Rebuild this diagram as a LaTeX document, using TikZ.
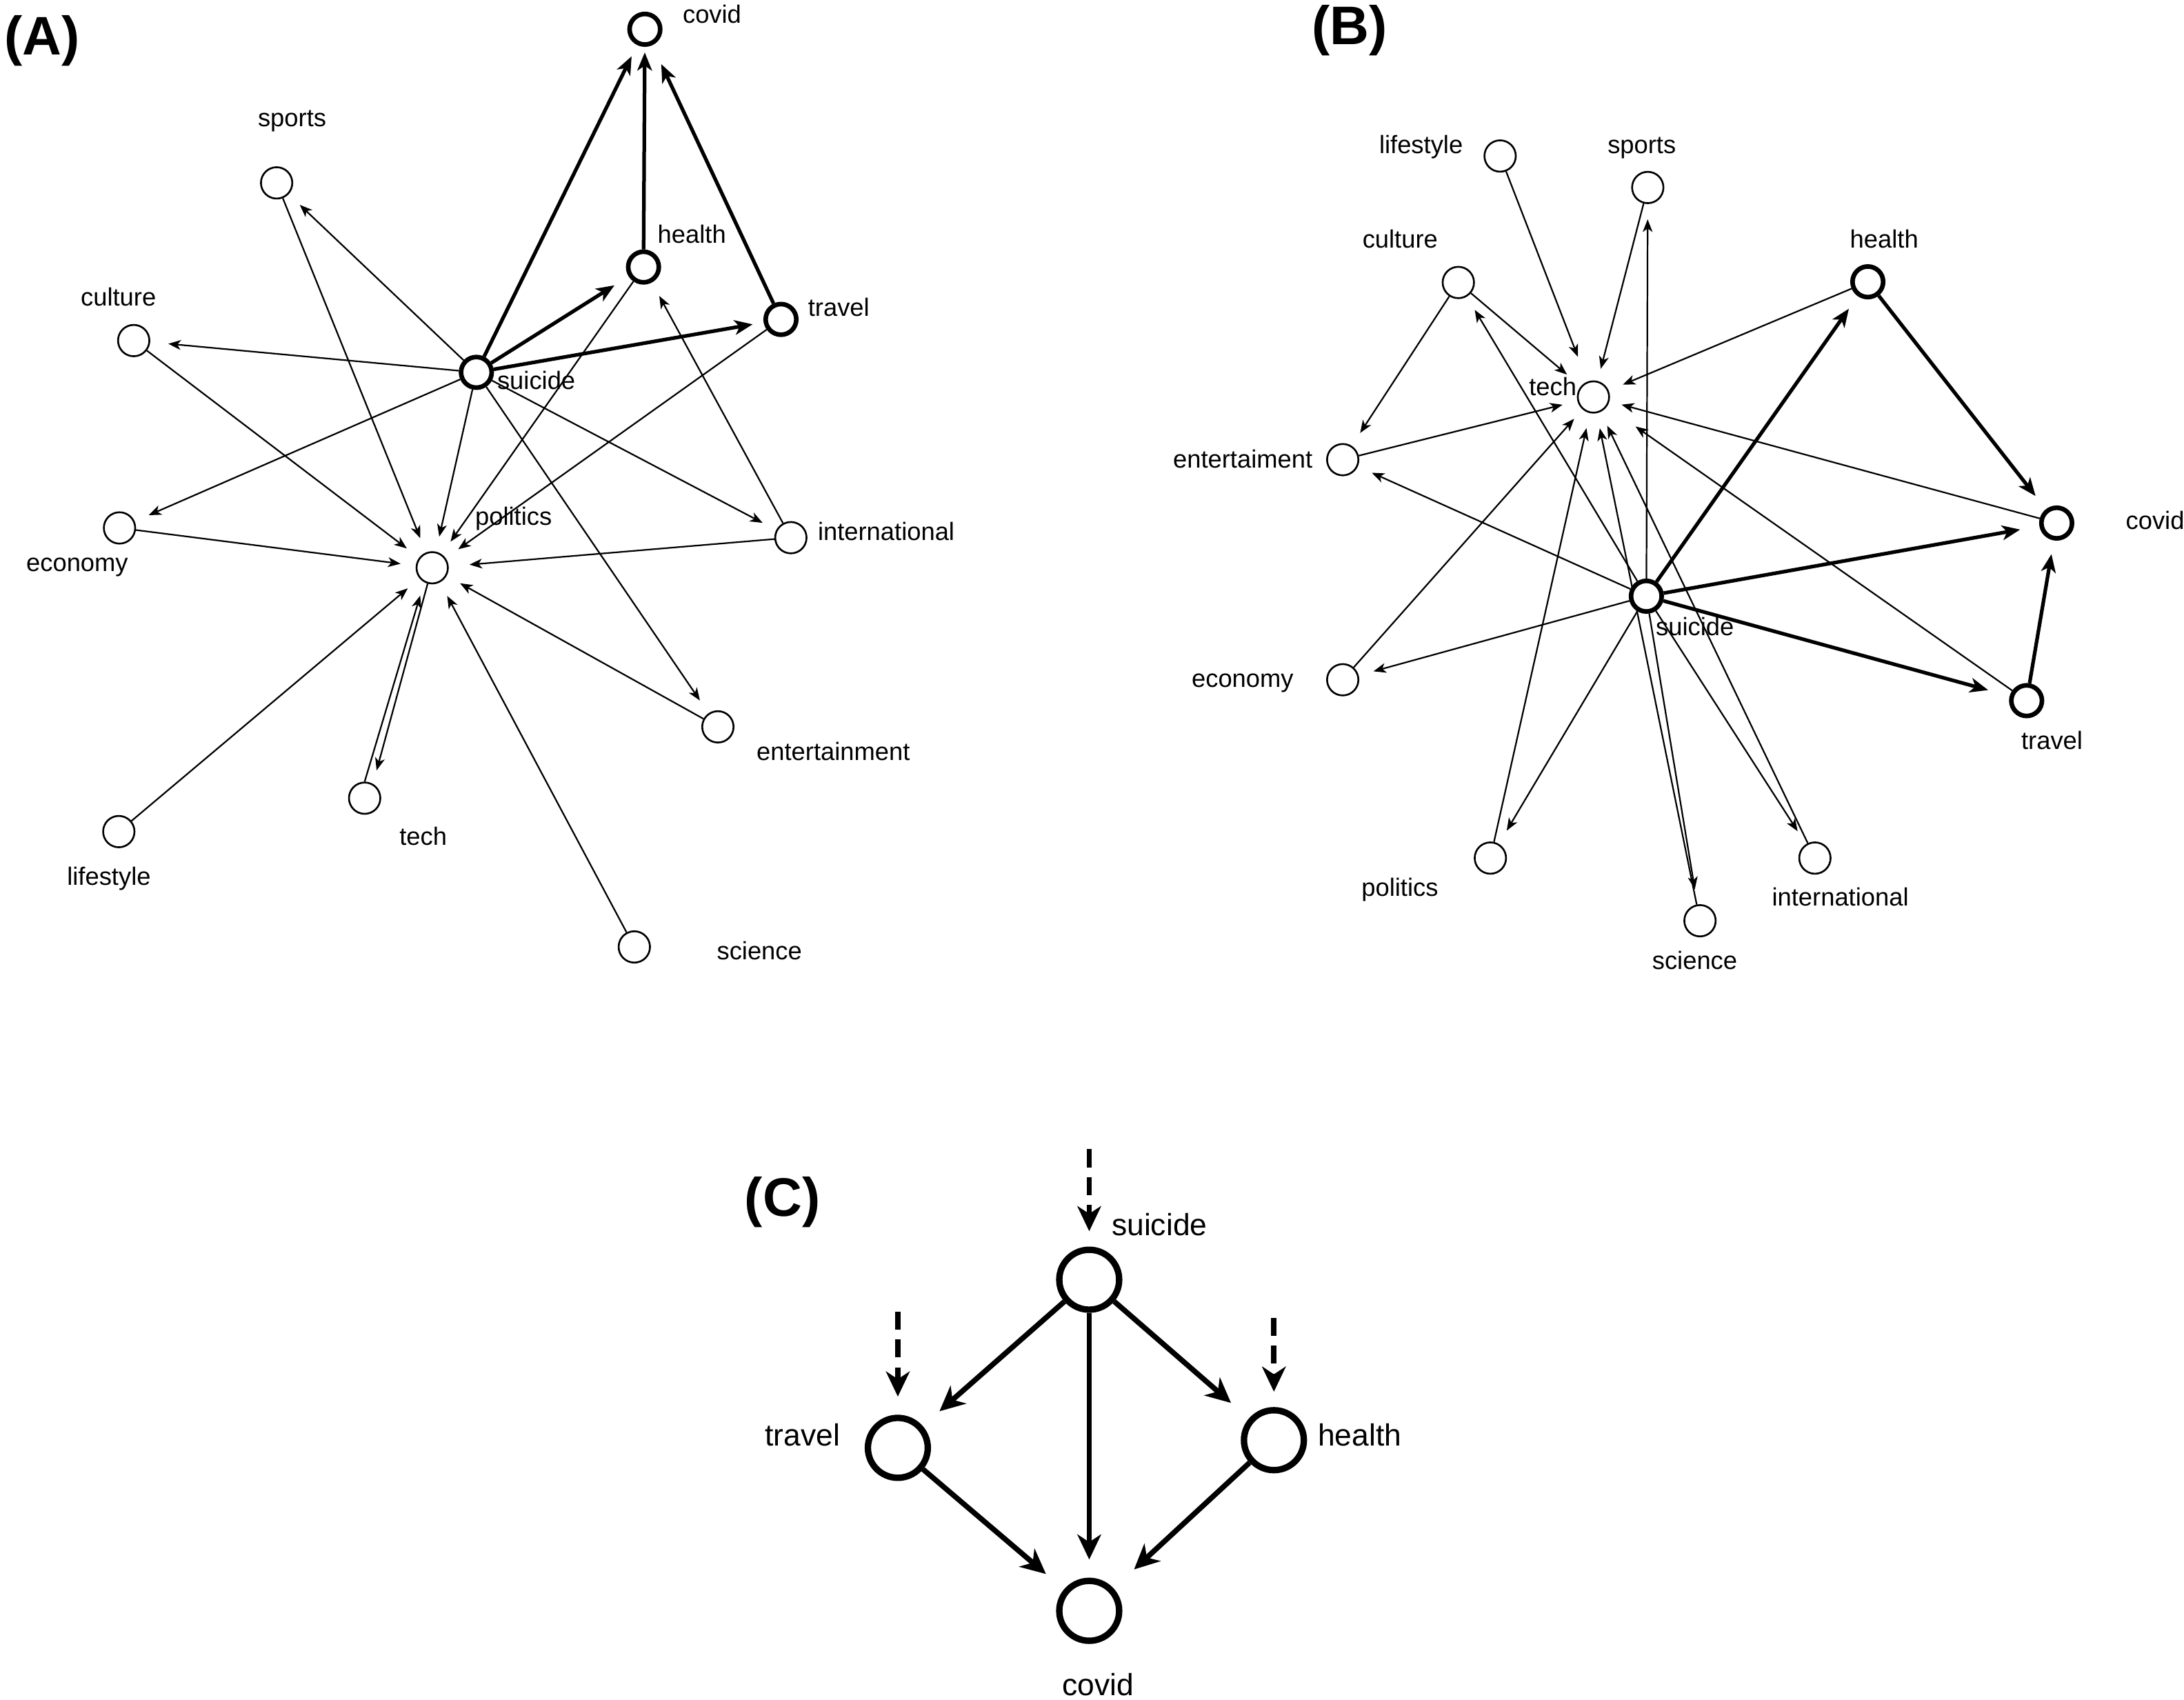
\documentclass[tikz,border=0pt]{standalone}
\usepackage{fontspec}
\setmainfont{Liberation Sans}
\usetikzlibrary{arrows.meta,calc,backgrounds}
\begin{document}
\begin{tikzpicture}[x=1pt,y=-1pt,
  nd/.style={circle,draw,fill=white,line width=1.3pt,minimum size=22.5pt,inner sep=0pt},
  tk/.style={nd,line width=3.3pt,minimum size=22pt},
  bignd/.style={circle,draw,fill=white,line width=4.6pt,minimum size=43pt,inner sep=0pt},
  lbl/.style={font=\fontsize{18}{20}\selectfont,inner sep=0pt,anchor=base west},
  lblc/.style={font=\fontsize{22}{24}\selectfont,inner sep=0pt,anchor=base west},
  ttl/.style={font=\fontsize{39}{42}\selectfont\bfseries,inner sep=0pt,anchor=base west},
  ar/.style={line width=1.1pt,-{Stealth[length=9pt,width=7pt,inset=2.5pt]},shorten >=11pt},
  tar/.style={line width=2.6pt,-{Stealth[length=13pt,width=10.5pt,inset=3.5pt]},shorten >=10pt},
  car/.style={line width=3.8pt,-{Stealth[length=18pt,width=17pt,inset=5.5pt]}},
  dar/.style={car,dash pattern=on 13pt off 7pt,shorten >=11pt},
]
\useasboundingbox (0,0) rectangle (1568,1220.4);
\begin{pgfonlayer}{background}
\fill[white] (0,0) rectangle (1568,1220.4);
\end{pgfonlayer}

% ---------------- Panel A ----------------
\node[ttl] (tA) at (3,39.6) {(A)};
\node[tk] (Acovid) at (463,21) {};
\node[nd] (Asports) at (198.6,131.3) {};
\node[tk] (Ahealth) at (462,191.7) {};
\node[tk] (Atravel) at (560.7,229.3) {};
\node[nd] (Aculture) at (96,244.5) {};
\node[tk] (Asuicide) at (342,267.3) {};
\node[nd] (Aeconomy) at (85.8,379) {};
\node[nd] (Apolitics) at (310.3,407.6) {};
\node[nd] (Ainternational) at (567.8,386) {};
\node[nd] (Aentertainment) at (515.4,521.8) {};
\node[nd] (Atech) at (261.8,573) {};
\node[nd] (Alifestyle) at (85.3,597) {};
\node[nd] (Ascience) at (455.4,679.8) {};

\node[lbl] (lAcovid) at (490,16.5) {covid};
\node[lbl] (lAsports) at (185,91) {sports};
\node[lbl] (lAhealth) at (472,174.7) {health};
\node[lbl] (lAtravel) at (580,227) {travel};
\node[lbl] (lAculture) at (57.8,219.6) {culture};
\node[lbl] (lAsuicide) at (356.8,279.3) {suicide};
\node[lbl] (lApolitics) at (341,377) {politics};
\node[lbl] (lAinternational) at (587,388) {international};
\node[lbl] (lAeconomy) at (18.7,410.4) {economy};
\node[lbl] (lAentertainment) at (543,546) {entertainment};
\node[lbl] (lAtech) at (286.6,606.5) {tech};
\node[lbl] (lAlifestyle) at (48,635.6) {lifestyle};
\node[lbl] (lAscience) at (514.5,689) {science};

\begin{pgfonlayer}{background}
\draw[tar,shorten >=9pt] (Asuicide) -- (Acovid);
\draw[tar,shorten >=4pt] (Ahealth) -- (Acovid);
\draw[tar,shorten >=15pt] (Atravel) -- (Acovid);
\draw[tar,shorten >=12pt] (Asuicide) -- (Ahealth);
\draw[tar,shorten >=8pt] (Asuicide) -- (Atravel);
\draw[ar] (Asuicide) -- (Asports);
\draw[ar,shorten >=13pt] (Asuicide) -- (Aculture);
\draw[ar] (Asuicide) -- (Aeconomy);
\draw[ar] (Asuicide) -- (Apolitics);
\draw[ar] (Asuicide) -- (Ainternational);
\draw[ar] (Asuicide) -- (Aentertainment);
\draw[ar] (Asports) -- (Apolitics);
\draw[ar] (Aculture) -- (Apolitics);
\draw[ar] (Aeconomy) -- (Apolitics);
\draw[ar] (Ahealth) -- (Apolitics);
\draw[ar] (Atravel) -- (Apolitics);
\draw[ar,shorten >=15pt] (Ainternational) -- (Apolitics);
\draw[ar] (Aentertainment) -- (Apolitics);
\draw[ar] (Alifestyle) -- (Apolitics);
\draw[ar] (Ascience) -- (Apolitics);
\draw[ar,shorten >=10pt] (Atech.90) -- (Apolitics.241);
\draw[ar,shorten >=10pt] (Apolitics.254) -- (Atech.60);
\draw[ar] (Ainternational) -- (Ahealth);
\end{pgfonlayer}

% ---------------- Panel B ----------------
\node[ttl] (tB) at (941.5,31.7) {(B)};
\node[nd] (Blifestyle) at (1077,112) {};
\node[nd] (Bsports) at (1183,134.6) {};
\node[nd] (Bculture) at (1047,202.8) {};
\node[tk] (Bhealth) at (1341,202.3) {};
\node[nd] (Btech) at (1144,285) {};
\node[nd] (Bentertaiment) at (964,330) {};
\node[tk] (Bcovid) at (1476.6,375.5) {};
\node[tk] (Bsuicide) at (1182,428) {};
\node[nd] (Beconomy) at (964,488) {};
\node[tk] (Btravel) at (1455,503) {};
\node[nd] (Bpolitics) at (1070,616) {};
\node[nd] (Binternational) at (1303,616) {};
\node[nd] (Bscience) at (1220.5,661) {};

\node[lbl] (lBlifestyle) at (990,110) {lifestyle};
\node[lbl] (lBsports) at (1154,110) {sports};
\node[lbl] (lBculture) at (978,178) {culture};
\node[lbl] (lBhealth) at (1328,178) {health};
\node[lbl] (lBtech) at (1097.6,283.8) {tech};
\node[lbl] (lBentertaiment) at (842,336) {entertaiment};
\node[lbl] (lBcovid) at (1526,380) {covid};
\node[lbl] (lBsuicide) at (1188.6,456) {suicide};
\node[lbl] (lBeconomy) at (855.4,493.4) {economy};
\node[lbl] (lBtravel) at (1451,538) {travel};
\node[lbl] (lBpolitics) at (977.3,643.2) {politics};
\node[lbl] (lBinternational) at (1272,650.5) {international};
\node[lbl] (lBscience) at (1186,695.8) {science};

\begin{pgfonlayer}{background}
\draw[tar,shorten >=11pt] (Bsuicide) -- (Bhealth);
\draw[tar,shorten >=12pt] (Bhealth) -- (Bcovid);
\draw[tar,shorten >=14pt] (Bsuicide) -- (Bcovid);
\draw[tar,shorten >=16pt] (Bsuicide) -- (Btravel);
\draw[tar,shorten >=10pt] (Btravel) -- (Bcovid);
\draw[ar,shorten >=19pt] (Blifestyle) -- (Btech);
\draw[ar,shorten >=9pt] (Bsports) -- (Btech);
\draw[ar,shorten >=13pt] (Bculture) -- (Btech);
\draw[ar] (Bculture) -- (Bentertaiment);
\draw[ar] (Bhealth) -- (Btech);
\draw[ar,shorten >=9pt] (Bcovid) -- (Btech);
\draw[ar] (Bentertaiment) -- (Btech);
\draw[ar,shorten >=9pt] (Beconomy) -- (Btech);
\draw[ar] (Bpolitics) -- (Btech);
\draw[ar] (Bscience) -- (Btech);
\draw[ar] (Binternational) -- (Btech);
\draw[ar,shorten >=25pt] (Btravel) -- (Btech);
\draw[ar] (Bsuicide) -- (Bsports);
\draw[ar] (Bsuicide) -- (Bculture);
\draw[ar] (Bsuicide) -- (Bentertaiment);
\draw[ar] (Bsuicide) -- (Beconomy);
\draw[ar] (Bsuicide) -- (Bpolitics);
\draw[ar] (Bsuicide) -- (Bscience);
\draw[ar] (Bsuicide) -- (Binternational);
\end{pgfonlayer}

% ---------------- Panel C ----------------
\node[ttl] (tC) at (534.5,873.3) {(C)};
\node[bignd] (Csuicide) at (782,918.7) {};
\node[bignd] (Ctravel) at (644.6,1039.4) {};
\node[bignd] (Chealth) at (914.6,1033.9) {};
\node[bignd] (Ccovid) at (782,1156.4) {};

\node[lblc] (lCsuicide) at (798,887) {suicide};
\node[lblc] (lCtravel) at (549,1038) {travel};
\node[lblc] (lChealth) at (946,1038) {health};
\node[lblc] (lCcovid) at (762.4,1217) {covid};

\coordinate (dCsuicide) at (782,825);
\coordinate (dCtravel) at (644.6,941.6);
\coordinate (dChealth) at (914.6,946);

\begin{pgfonlayer}{background}
\draw[car,shorten >=16pt] (Csuicide) -- (Ctravel);
\draw[car,shorten >=17pt] (Csuicide) -- (Chealth);
\draw[car,shorten >=13pt] (Csuicide) -- (Ccovid);
\draw[car,shorten >=17pt] (Ctravel) -- (Ccovid);
\draw[car,shorten >=20pt] (Chealth) -- (Ccovid);
\draw[dar] (dCsuicide) -- (Csuicide);
\draw[dar,shorten >=13pt] (dCtravel) -- (Ctravel);
\draw[dar] (dChealth) -- (Chealth);
\end{pgfonlayer}
\end{tikzpicture}
\end{document}
